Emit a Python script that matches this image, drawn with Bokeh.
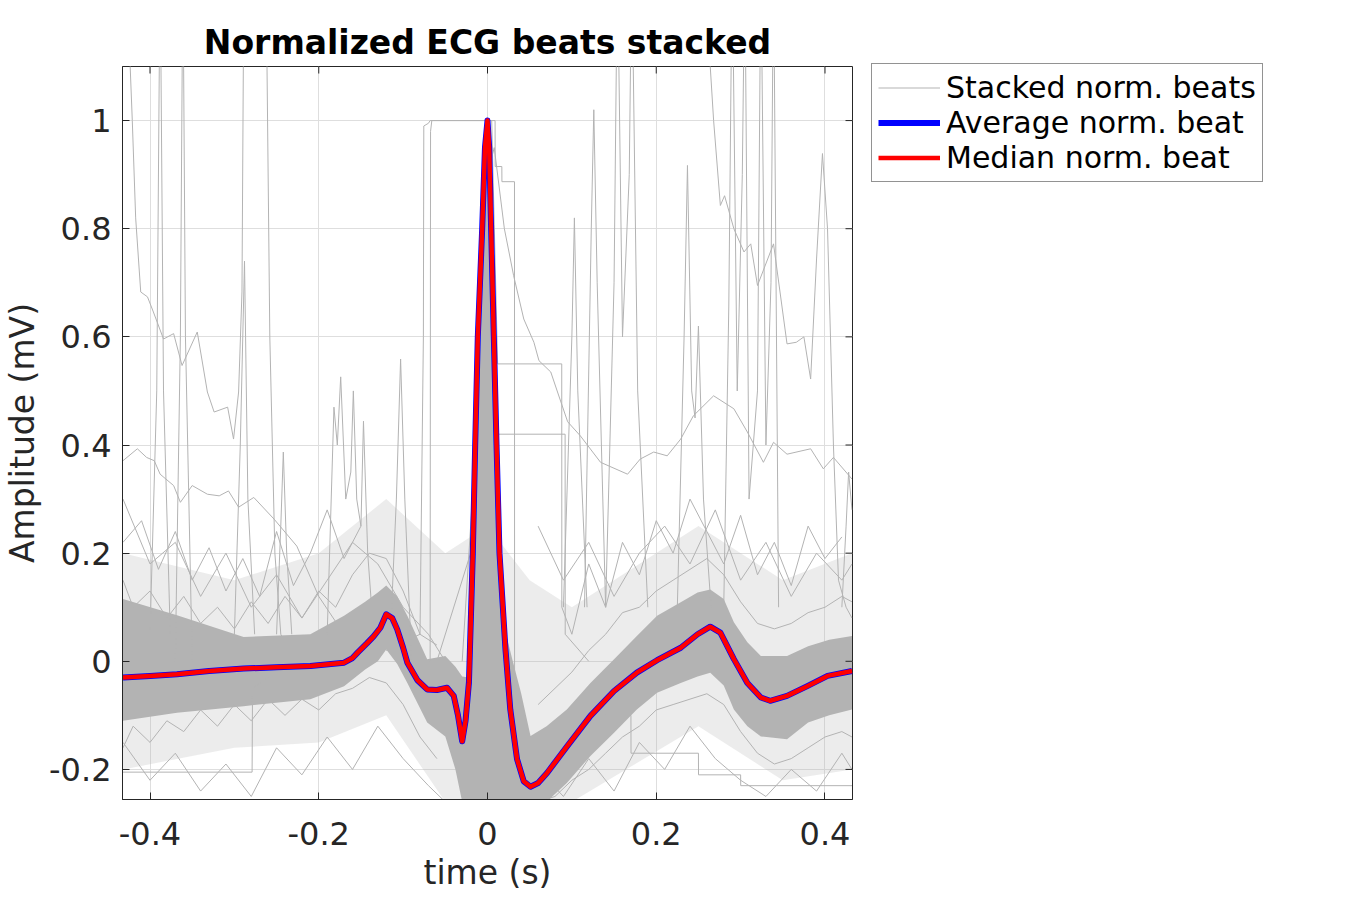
from math import pi

from bokeh.embed import file_html
from bokeh.models import FixedTicker, Legend, LegendItem, Range1d
from bokeh.plotting import figure
from bokeh.resources import INLINE

FONT = "DejaVu Sans"
GREY = "#b3b3b3"
INK = "#262626"

x_lo, x_hi = -0.4326, 0.4326
y_lo, y_hi = -0.2556, 1.1

# average / median beat (time in s, normalised amplitude)
beat_t = [-0.432, -0.40, -0.368, -0.33, -0.289, -0.25, -0.210, -0.170, -0.160, -0.154,
          -0.143, -0.135, -0.127, -0.120, -0.113, -0.107, -0.100, -0.095, -0.083, -0.0715,
          -0.060, -0.048, -0.040, -0.035, -0.030, -0.026, -0.022, -0.0174, -0.0146, -0.0115,
          -0.0063, -0.003, 0.0, 0.002, 0.0043, 0.0075, 0.0107, 0.0142, 0.0213, 0.027,
          0.035, 0.043, 0.051, 0.060, 0.0708, 0.0944, 0.122, 0.150, 0.177, 0.201,
          0.229, 0.249, 0.264, 0.276, 0.292, 0.308, 0.324, 0.335, 0.355, 0.379,
          0.403, 0.432]
avg_beat = [-0.030, -0.027, -0.024, -0.018, -0.0135, -0.011, -0.0087, -0.0025, 0.006, 0.016,
            0.033, 0.046, 0.062, 0.087, 0.080, 0.059, 0.025, -0.0025, -0.035, -0.052,
            -0.053, -0.049, -0.064, -0.10, -0.148, -0.11, -0.039, 0.2, 0.4, 0.6,
            0.8, 0.95, 1.0, 0.95, 0.8, 0.6, 0.4, 0.2, 0.022, -0.089,
            -0.181, -0.222, -0.232, -0.225, -0.206, -0.157, -0.101, -0.055, -0.021, 0.002,
            0.025, 0.050, 0.064, 0.053, 0.004, -0.040, -0.067, -0.073, -0.064, -0.046,
            -0.027, -0.018]
median_beat = [-0.030, -0.027, -0.024, -0.018, -0.0135, -0.011, -0.0087, -0.0025, 0.006, 0.016,
               0.033, 0.046, 0.062, 0.087, 0.080, 0.059, 0.025, -0.0025, -0.035, -0.052,
               -0.053, -0.049, -0.064, -0.10, -0.148, -0.11, -0.039, 0.2, 0.4, 0.6,
               0.8, 0.95, 1.0, 0.95, 0.8, 0.6, 0.4, 0.2, 0.022, -0.089,
               -0.181, -0.222, -0.232, -0.225, -0.206, -0.157, -0.101, -0.055, -0.021, 0.002,
               0.025, 0.050, 0.064, 0.053, 0.004, -0.040, -0.067, -0.073, -0.064, -0.046,
               -0.027, -0.018]

# dense core of the stacked beats (lower / upper envelope)
band_t = [-0.432, -0.368, -0.289, -0.210, -0.170, -0.145, -0.130, -0.120, -0.107, -0.095,
          -0.0715, -0.050, -0.038, -0.030, -0.022, -0.016, -0.010, -0.004, 0.0, 0.004,
          0.010, 0.016, 0.022, 0.030, 0.040, 0.051, 0.070, 0.094, 0.122, 0.150,
          0.177, 0.201, 0.229, 0.249, 0.264, 0.280, 0.292, 0.308, 0.324, 0.355,
          0.380, 0.405, 0.432]
band_hi = [0.115, 0.085, 0.045, 0.050, 0.084, 0.110, 0.127, 0.140, 0.120, 0.084,
           0.004, 0.010, -0.010, -0.028, -0.03, 0.25, 0.62, 0.88, 0.97, 0.80,
           0.40, 0.15, 0.05, 0.0, -0.06, -0.138, -0.12, -0.089, -0.04, 0.004,
           0.047, 0.084, 0.109, 0.127, 0.133, 0.115, 0.072, 0.035, 0.010, 0.010,
           0.028, 0.040, 0.047]
band_lo = [-0.110, -0.095, -0.083, -0.070, -0.046, -0.015, 0.000, 0.022, -0.005, -0.040,
           -0.113, -0.139, -0.20, -0.26, -0.26, -0.26, -0.26, -0.26, -0.26, -0.26,
           -0.26, -0.26, -0.26, -0.26, -0.26, -0.26, -0.26, -0.225, -0.175, -0.132,
           -0.089, -0.058, -0.040, -0.028, -0.021, -0.045, -0.089, -0.12, -0.139, -0.144,
           -0.113, -0.100, -0.089]

# looser fringe of beats round the core
fringe_t = [-0.432, -0.30, -0.20, -0.12, -0.05, 0.0, 0.05, 0.10, 0.25, 0.35, 0.432]
fringe_hi = [0.20, 0.15, 0.20, 0.30, 0.20, 0.25, 0.15, 0.10, 0.25, 0.15, 0.20]
fringe_lo = [-0.20, -0.16, -0.15, -0.10, -0.26, -0.26, -0.26, -0.26, -0.12, -0.22, -0.20]

# individual stacked beats that stand out of the core
t_a = [-0.432, -0.426, -0.424, -0.421, -0.417, -0.411, -0.403, -0.396, -0.384, -0.372,
       -0.362, -0.344, -0.332, -0.324, -0.308, -0.301, -0.295, -0.291, -0.289, -0.262,
       -0.258, -0.252, -0.245, -0.235]
v_a = [1.4, 1.3, 1.12, 1.0, 0.82, 0.683, 0.674, 0.646, 0.596, 0.606,
       0.547, 0.609, 0.498, 0.461, 0.470, 0.411, 0.498, 0.683, 1.2, 1.2,
       0.6, 0.2, 0.05, 0.02]
t_b = [-0.432, -0.415, -0.404, -0.395, -0.388, -0.372, -0.364, -0.350, -0.332, -0.318,
       -0.307, -0.295, -0.277, -0.253, -0.226, -0.20, -0.17]
v_b = [0.371, 0.393, 0.377, 0.371, 0.346, 0.325, 0.294, 0.325, 0.309, 0.306,
       0.315, 0.285, 0.303, 0.263, 0.213, 0.12, 0.05]
t_c = [0.255, 0.262, 0.268, 0.276, 0.281, 0.292, 0.304, 0.312, 0.320, 0.339,
       0.355, 0.366, 0.375, 0.383, 0.390, 0.397, 0.403, 0.410, 0.416, 0.425, 0.432]
v_c = [1.4, 1.15, 1.0, 0.843, 0.861, 0.80, 0.757, 0.772, 0.695, 0.772,
       0.587, 0.59, 0.600, 0.522, 0.744, 0.939, 0.80, 0.40, 0.15, 0.10, 0.08]
t_d = [-0.030, -0.010, 0.000, 0.008, 0.020, 0.031, 0.043, 0.055, 0.061, 0.075,
       0.083, 0.095, 0.110, 0.134, 0.166, 0.181, 0.197, 0.213, 0.229, 0.244,
       0.268, 0.292, 0.308, 0.327, 0.339, 0.355, 0.383, 0.398, 0.410, 0.432]
v_d = [0.0, 0.5, 0.90, 0.95, 0.80, 0.713, 0.633, 0.59, 0.556, 0.535,
       0.498, 0.443, 0.417, 0.368, 0.346, 0.374, 0.387, 0.380, 0.411, 0.454,
       0.491, 0.467, 0.424, 0.368, 0.405, 0.383, 0.393, 0.356, 0.377, 0.337]
# clipped (stepped) beats
t_e = [-0.12, -0.08, -0.076, -0.0755, -0.070, -0.068, 0.009, 0.0091, 0.017, 0.0171, 0.032, 0.0321, 0.045]
v_e = [0.02, 0.05, 0.60, 0.99, 0.995, 1.0, 1.0, 0.915, 0.915, 0.887, 0.887, -0.10, -0.15]
t_f = [-0.10, -0.068, -0.0675, -0.066, 0.005, 0.012, 0.088, 0.0881, 0.10]
v_f = [0.0, 0.0, 0.98, 1.0, 1.0, 0.55, 0.55, 0.10, 0.05]
t_g = [-0.06, -0.02, 0.0, 0.012, 0.092, 0.0921, 0.12]
v_g = [0.0, 0.2, 0.9, 0.42, 0.42, 0.05, 0.0]
t_h = [-0.432, -0.279, -0.2785, -0.26]
v_h = [-0.205, -0.205, -0.05, -0.03]
t_i = [0.14, 0.17, 0.1701, 0.25, 0.2501, 0.30, 0.3001, 0.432]
v_i = [-0.10, -0.10, -0.17, -0.17, -0.21, -0.21, -0.23, -0.23]
# noisy beats with spikes
t_j = [-0.40, -0.392, -0.388, -0.384, -0.376]
v_j = [0.05, 0.5, 1.3, 0.5, 0.05]
t_k = [-0.37, -0.364, -0.361, -0.358, -0.35]
v_k = [0.0, 0.6, 1.3, 0.6, 0.0]
t_l = [-0.30, -0.293, -0.288, -0.284, -0.276]
v_l = [0.05, 0.4, 0.74, 0.3, 0.05]
t_m = [0.090, 0.100, 0.103, 0.107, 0.118]
v_m = [0.1, 0.6, 0.82, 0.5, 0.1]
t_n = [0.115, 0.123, 0.126, 0.130, 0.140]
v_n = [0.1, 0.8, 1.02, 0.7, 0.1]
t_o = [0.14, 0.150, 0.154, 0.160, 0.168, 0.171, 0.178, 0.19]
v_o = [0.1, 0.7, 1.3, 0.6, 0.9, 1.3, 0.5, 0.1]
t_p = [0.225, 0.233, 0.237, 0.242, 0.246, 0.250, 0.256, 0.265]
v_p = [0.1, 0.6, 0.917, 0.5, 0.45, 0.62, 0.3, 0.1]
t_q = [0.280, 0.286, 0.290, 0.296, 0.302, 0.305, 0.310, 0.320, 0.324, 0.330, 0.336, 0.339, 0.345]
v_q = [0.1, 0.657, 1.3, 0.5, 0.9, 1.3, 0.3, 0.5, 1.3, 0.4, 0.7, 1.3, 0.1]
t_r = [0.42, 0.425, 0.428, 0.432]
v_r = [0.1, 0.25, 0.35, 0.28]
t_s = [-0.19, -0.182, -0.178, -0.174, -0.168, -0.162, -0.159, -0.155, -0.150, -0.147, -0.142, -0.135]
v_s = [0.05, 0.47, 0.40, 0.526, 0.30, 0.35, 0.50, 0.30, 0.25, 0.444, 0.2, 0.05]
t_u = [-0.115, -0.108, -0.103, -0.098, -0.09]
v_u = [0.05, 0.3, 0.559, 0.3, 0.0]
t_w = [-0.25, -0.245, -0.242, -0.238, -0.232]
v_w = [0.05, 0.25, 0.387, 0.2, 0.05]
t_left = [-0.432, -0.40, -0.37, -0.34, -0.31, -0.28, -0.25, -0.22, -0.19, -0.16, -0.13, -0.10, -0.07, -0.05]
v_left_hi = [0.30, 0.18, 0.22, 0.12, 0.20, 0.10, 0.16, 0.08, 0.15, 0.22, 0.18, 0.10, 0.05, 0.0]
v_left_lo = [-0.15, -0.22, -0.17, -0.24, -0.19, -0.25, -0.16, -0.21, -0.14, -0.20, -0.12, -0.18, -0.23, -0.26]
t_right = [0.06, 0.09, 0.12, 0.15, 0.18, 0.21, 0.24, 0.27, 0.30, 0.33, 0.36, 0.39, 0.42, 0.432]
v_right_hi = [0.25, 0.15, 0.22, 0.12, 0.2, 0.25, 0.18, 0.28, 0.15, 0.22, 0.12, 0.2, 0.15, 0.18]
v_right_lo = [-0.20, -0.25, -0.18, -0.24, -0.15, -0.2, -0.12, -0.18, -0.22, -0.25, -0.2, -0.24, -0.17, -0.2]
# beats running along the edges of the core
t_edge_l = [-0.432, -0.42, -0.40, -0.38, -0.36, -0.34, -0.32, -0.30, -0.28, -0.26,
            -0.24, -0.22, -0.20, -0.18, -0.16, -0.14, -0.12, -0.10, -0.08, -0.06]
v_edge_l_hi = [0.15, 0.10, 0.13, 0.08, 0.12, 0.07, 0.10, 0.06, 0.11, 0.07,
               0.12, 0.08, 0.13, 0.10, 0.16, 0.20, 0.19, 0.13, 0.05, 0.03]
v_edge_l_lo = [-0.16, -0.12, -0.15, -0.11, -0.13, -0.09, -0.12, -0.08, -0.11, -0.07,
               -0.10, -0.07, -0.09, -0.06, -0.05, -0.03, -0.04, -0.08, -0.14, -0.18]
t_edge_r = [0.06, 0.08, 0.10, 0.12, 0.14, 0.16, 0.18, 0.20, 0.22, 0.24,
            0.26, 0.28, 0.30, 0.32, 0.34, 0.36, 0.38, 0.40, 0.42, 0.432]
v_edge_r_hi = [-0.08, -0.05, -0.02, 0.02, 0.05, 0.09, 0.10, 0.13, 0.15, 0.17,
               0.19, 0.16, 0.11, 0.07, 0.06, 0.07, 0.09, 0.10, 0.12, 0.11]
v_edge_r_lo = [-0.26, -0.25, -0.22, -0.20, -0.17, -0.14, -0.12, -0.09, -0.08, -0.07,
               -0.06, -0.08, -0.13, -0.17, -0.19, -0.18, -0.16, -0.14, -0.13, -0.14]
t_mid_l = [-0.432, -0.41, -0.39, -0.37, -0.35, -0.33, -0.31, -0.29, -0.27, -0.25,
           -0.23, -0.21, -0.19, -0.17, -0.15]
v_mid_l = [0.22, 0.26, 0.17, 0.24, 0.15, 0.21, 0.13, 0.19, 0.12, 0.24,
           0.14, 0.20, 0.28, 0.19, 0.25]
t_mid_r = [0.10, 0.12, 0.14, 0.16, 0.18, 0.20, 0.22, 0.24, 0.26, 0.28,
           0.30, 0.32, 0.34, 0.36, 0.38, 0.40, 0.42]
v_mid_r = [0.05, 0.18, 0.10, 0.22, 0.16, 0.26, 0.20, 0.30, 0.24, 0.18,
           0.27, 0.16, 0.22, 0.14, 0.25, 0.19, 0.23]

x_ticks = [-0.4, -0.2, 0.0, 0.2, 0.4]
x_tick_labels = ["-0.4", "-0.2", "0", "0.2", "0.4"]
y_ticks = [-0.2, 0.0, 0.2, 0.4, 0.6, 0.8, 1.0]
y_tick_labels = ["-0.2", "0", "0.2", "0.4", "0.6", "0.8", "1"]

stacked_t = [t_a, t_b, t_c, t_d, t_e, t_f, t_g, t_h, t_i, t_j, t_k, t_l, t_m, t_n,
             t_o, t_p, t_q, t_r, t_s, t_u, t_w, t_left, t_left, t_right, t_right,
             t_edge_l, t_edge_l, t_edge_r, t_edge_r, t_mid_l, t_mid_r]
stacked_v = [v_a, v_b, v_c, v_d, v_e, v_f, v_g, v_h, v_i, v_j, v_k, v_l, v_m, v_n,
             v_o, v_p, v_q, v_r, v_s, v_u, v_w, v_left_hi, v_left_lo, v_right_hi, v_right_lo,
             v_edge_l_hi, v_edge_l_lo, v_edge_r_hi, v_edge_r_lo, v_mid_l, v_mid_r]


def style_axis(ax, ticks, labels):
    ax.ticker = FixedTicker(ticks=ticks)
    ax.major_label_overrides = dict(zip(ticks, labels))
    ax.major_tick_in = 7
    ax.major_tick_out = 0
    ax.minor_tick_line_color = None
    ax.axis_line_color = INK
    ax.major_tick_line_color = INK
    ax.major_label_text_font = FONT
    ax.major_label_text_font_size = "32px"
    ax.major_label_text_color = INK
    ax.axis_label_text_font = FONT
    ax.axis_label_text_font_size = "33px"
    ax.axis_label_text_font_style = "normal"
    ax.axis_label_text_color = INK


p = figure(
    title="Normalized ECG beats stacked",
    x_axis_label="time (s)",
    y_axis_label="Amplitude (mV)",
    x_range=Range1d(x_lo, x_hi),
    y_range=Range1d(y_lo, y_hi),
    frame_width=730,
    frame_height=733,
    min_border_left=114,
    min_border_right=480,
    min_border_top=66,
    min_border_bottom=80,
    output_backend="svg",
    toolbar_location=None,
)
p.title.text_font = FONT
p.title.text_font_size = "33px"
p.title.text_font_style = "bold"
p.title.text_color = "black"
p.title.align = "center"
p.outline_line_color = INK
p.grid.grid_line_color = "#dedede"
p.xgrid.ticker = FixedTicker(ticks=x_ticks)
p.ygrid.ticker = FixedTicker(ticks=y_ticks)

style_axis(p.xaxis[0], x_ticks, x_tick_labels)
style_axis(p.yaxis[0], y_ticks, y_tick_labels)
p.xaxis[0].major_label_standoff = 22
p.yaxis[0].major_label_standoff = 11
p.yaxis[0].axis_label_standoff = 4

p.varea(x=fringe_t, y1=fringe_lo, y2=fringe_hi, fill_color=GREY, fill_alpha=0.25)
p.varea(x=band_t, y1=band_lo, y2=band_hi, fill_color=GREY)
grey_lines = p.multi_line(xs=stacked_t, ys=stacked_v, line_color=GREY, line_width=1)
avg_line = p.line(beat_t, avg_beat, line_color="#0000ff", line_width=6, line_join="round")
med_line = p.line(beat_t, median_beat, line_color="#ff0000", line_width=4.5, line_join="round")

# inward ticks on the top and right edges of the box
p.scatter(x=x_ticks, y=[y_hi] * len(x_ticks), marker="dash", angle=pi / 2, size=14,
          line_color=INK, line_width=1)
p.scatter(x=[x_hi] * len(y_ticks), y=y_ticks, marker="dash", size=14,
          line_color=INK, line_width=1)

legend = Legend(
    items=[
        LegendItem(label="Stacked norm. beats", renderers=[grey_lines]),
        LegendItem(label="Average norm. beat", renderers=[avg_line]),
        LegendItem(label="Median norm. beat", renderers=[med_line]),
    ],
    location=(19, 617),
)
legend.label_text_font = FONT
legend.label_text_font_size = "30px"
legend.label_text_color = "black"
legend.border_line_color = INK
legend.background_fill_alpha = 1
legend.glyph_width = 62
legend.glyph_height = 35
legend.label_height = 35
legend.spacing = 0
legend.padding = 6
legend.margin = 0
legend.label_standoff = 6
p.add_layout(legend, "right")

open("out.html", "w").write(file_html(p, INLINE))
